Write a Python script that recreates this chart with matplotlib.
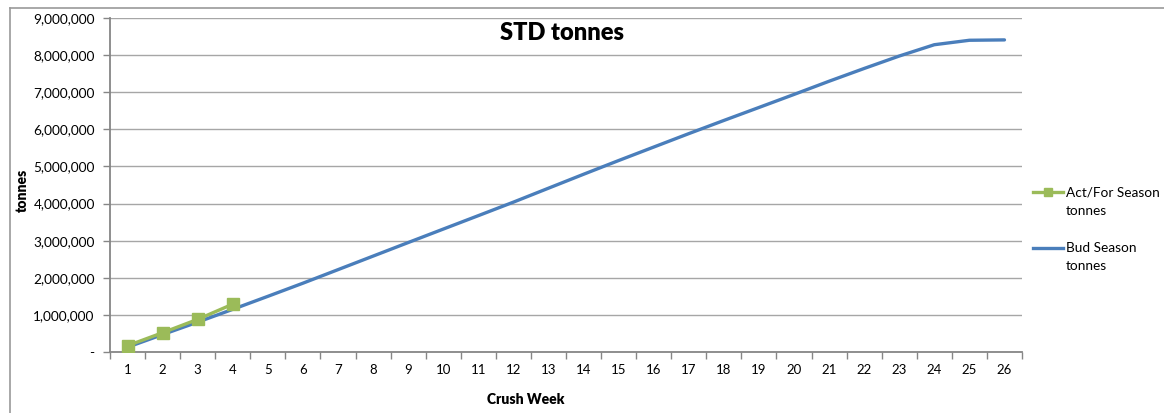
import matplotlib
matplotlib.use("Agg")
import matplotlib.pyplot as plt
from matplotlib.lines import Line2D
from matplotlib.ticker import FuncFormatter, FixedLocator

plt.rcParams['font.family'] = ['Lato', 'DejaVu Sans']

weeks = list(range(1, 27))
bud_season = [130000, 470000, 805000, 1150000, 1500000, 1854000, 2219000, 2584000,
              2949000, 3312000, 3674000, 4038000, 4414000, 4789000, 5159000, 5522000,
              5884000, 6239000, 6589000, 6940000, 7296000, 7640000, 7975000, 8280000,
              8400000, 8410000]
act_weeks = [1, 2, 3, 4]
act_season = [170000, 520000, 880000, 1290000]

title = "STD tonnes"
xlabel = "Crush Week"
ylabel = "tonnes"
label_act = "Act/For Season\ntonnes"
label_bud = "Bud Season\ntonnes"

W, H = 1164, 413
fig = plt.figure(figsize=(W / 100, H / 100), dpi=100)
ax = fig.add_axes([110 / W, 1 - 352 / H, (1022 - 110) / W, (352 - 18) / H])

blue = '#4A7EBB'
green = '#9BBB59'
grid_c = '#A6A6A6'
axis_c = '#868686'

ax.plot(weeks, bud_season, color=blue, lw=2.4, solid_capstyle='round', zorder=3)
ax.plot(act_weeks, act_season, color=green, lw=2.4, marker='s', ms=8,
        markeredgecolor=green, zorder=4)

ax.set_xlim(0.5, 26.5)
ax.set_ylim(0, 9000000)
ax.yaxis.set_major_locator(FixedLocator([i * 1000000 for i in range(10)]))
ax.yaxis.set_major_formatter(FuncFormatter(lambda v, p: '-' if v == 0 else f'{int(v):,}'))
ax.set_xticks(weeks)
ax.set_xticks([w + 0.5 for w in range(0, 27)], minor=True)
ax.tick_params(axis='x', which='major', length=0, pad=9, labelsize=9.5, colors='black')
ax.tick_params(axis='x', which='minor', length=5, width=1, color=axis_c, direction='out')
ax.tick_params(axis='y', which='major', length=5, width=1, color=axis_c, pad=6,
               labelsize=9.8, labelcolor='black')
ax.grid(axis='y', color=grid_c, lw=1)
ax.set_axisbelow(True)
for s in ['top', 'right']:
    ax.spines[s].set_visible(False)
for s in ['left', 'bottom']:
    ax.spines[s].set_color(axis_c)
    ax.spines[s].set_linewidth(1.3)

fig.text(562 / W, 1 - 33 / H, title, ha='center', va='center', fontsize=17, fontweight='heavy')
fig.text(526 / W, 1 - 400 / H, xlabel, ha='center', va='center', fontsize=10, fontweight='heavy')
fig.text(22 / W, 1 - 190 / H, ylabel, ha='center', va='center', fontsize=10,
         fontweight='heavy', rotation=90)

# legend (drawn manually to match multi-line spacing)
def legend_entry(y_px, color, text, marker=None):
    y = 1 - y_px / H
    fig.add_artist(Line2D([1033 / W, 1063 / W], [y, y], color=color, lw=2.4,
                          transform=fig.transFigure))
    if marker:
        fig.add_artist(Line2D([1048 / W], [y], color=color, marker=marker, ms=6,
                              lw=0, transform=fig.transFigure))
    fig.text(1066 / W, 1 - (y_px - 6) / H, text, ha='left', va='top', fontsize=9.8,
             linespacing=1.65, transform=fig.transFigure)

legend_entry(192, green, label_act, marker='s')
legend_entry(248, blue, label_bud)

# outer chart border
fig.add_artist(Line2D([10 / W, 10 / W], [0, 1 - 8 / H], color='#9A9A9A', lw=1.2,
                      transform=fig.transFigure))
fig.add_artist(Line2D([10 / W, 1], [1 - 8 / H, 1 - 8 / H], color='#9A9A9A', lw=1.2,
                      transform=fig.transFigure))

fig.savefig('out.png', dpi=100)
